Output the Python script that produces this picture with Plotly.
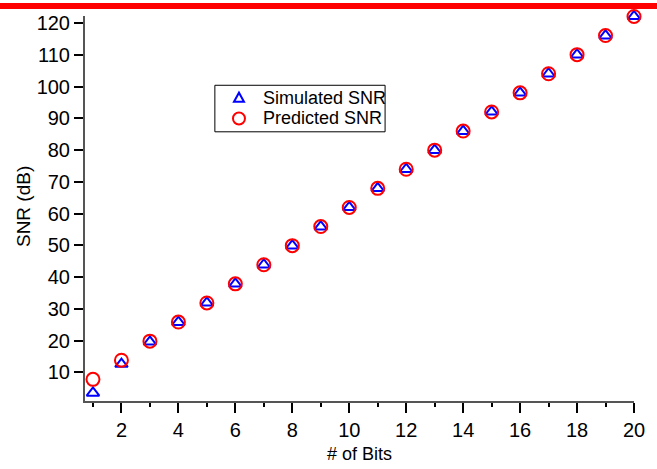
import plotly.graph_objects as go

bits = list(range(1, 21))
simulated_snr = [3.5, 12.6, 19.6, 25.8, 31.9, 37.9, 43.9, 49.9, 55.9, 62.0,
                 68.0, 74.0, 80.0, 86.0, 92.1, 98.1, 104.1, 110.1, 116.1, 122.2]
predicted_snr = [7.78, 13.80, 19.82, 25.84, 31.86, 37.88, 43.90, 49.92, 55.94, 61.96,
                 67.98, 74.00, 80.02, 86.04, 92.06, 98.08, 104.10, 110.12, 116.14, 122.16]
y_ticks = [10, 20, 30, 40, 50, 60, 70, 80, 90, 100, 110, 120]
x_ticks = [2, 4, 6, 8, 10, 12, 14, 16, 18, 20]
series_names = ["Simulated SNR", "Predicted SNR"]

FONT = "Liberation Sans, Arial, sans-serif"
BLUE = "#0000ff"
RED = "#ff0000"

# plot-area geometry (pixels) used to place the hand-drawn legend box
L, R, T, B = 85, 643, 12, 401
def px(x):
    return (x - L) / (R - L)
def py(y):
    return (B - y) / (B - T)

fig = go.Figure()
fig.add_trace(go.Scatter(
    x=bits, y=simulated_snr, mode="markers", name=series_names[0],
    marker=dict(symbol="triangle-up-open", size=11, color=BLUE,
                line=dict(width=2, color=BLUE)),
    cliponaxis=False, showlegend=False,
))
fig.add_trace(go.Scatter(
    x=bits, y=predicted_snr, mode="markers", name=series_names[1],
    marker=dict(symbol="circle-open", size=13, color=RED,
                line=dict(width=2, color=RED)),
    cliponaxis=False, showlegend=False,
))

legend_shapes = [
    # legend frame
    dict(type="rect", xref="paper", yref="paper",
         x0=px(217), x1=px(390), y0=py(129), y1=py(82),
         fillcolor="white", line=dict(color="black", width=1), layer="above"),
    # triangle symbol
    dict(type="path", xref="paper", yref="paper",
         xsizemode="pixel", ysizemode="pixel",
         xanchor=px(241.5), yanchor=py(94.5),
         path="M -5,-4 L 5,-4 L 0,5 Z",
         line=dict(color=BLUE, width=2), layer="above"),
    # circle symbol
    dict(type="circle", xref="paper", yref="paper",
         xsizemode="pixel", ysizemode="pixel",
         xanchor=px(241.5), yanchor=py(115.5),
         x0=-6, x1=6, y0=-6, y1=6,
         line=dict(color=RED, width=2), layer="above"),
]

fig.update_layout(
    width=657, height=469,
    margin=dict(l=L, r=657 - R, t=T, b=469 - B),
    paper_bgcolor="white", plot_bgcolor="white",
    font=dict(family=FONT, size=18, color="black"),
    showlegend=False,
    xaxis=dict(
        range=[0.72, 20], tickvals=x_ticks, ticks="outside", ticklen=10,
        tickwidth=1.5, tickcolor="black", showgrid=False, zeroline=False,
        showline=True, linecolor="#555555", linewidth=2,
        minor=dict(dtick=1, tick0=1, ticks="outside", ticklen=4, tickwidth=1.5,
                   tickcolor="black", showgrid=False),
        tickfont=dict(size=20),
    ),
    yaxis=dict(
        range=[0.95, 122.3], tickvals=y_ticks, ticks="outside", ticklen=9,
        tickwidth=1.5, tickcolor="black", showgrid=False, zeroline=False,
        showline=True, linecolor="#555555", linewidth=2,
        tickfont=dict(size=20),
    ),
    shapes=[dict(
        type="rect", xref="paper", yref="paper",
        xsizemode="pixel", ysizemode="pixel", xanchor=0, yanchor=1,
        x0=-90, x1=600, y0=7, y1=13,
        fillcolor=RED, line=dict(width=0), layer="above",
    )] + legend_shapes,
    annotations=[
        dict(text="SNR (dB)", textangle=-90, xref="paper", yref="paper",
             x=px(22), y=py(205), showarrow=False,
             xanchor="center", yanchor="middle", font=dict(size=19)),
        dict(text="# of Bits", xref="paper", yref="paper",
             x=0.5, y=py(455), showarrow=False,
             xanchor="center", yanchor="middle", font=dict(size=18)),
        dict(text=series_names[0], xref="paper", yref="paper",
             x=px(264), y=py(94.5), showarrow=False,
             xanchor="left", yanchor="middle", font=dict(size=18)),
        dict(text=series_names[1], xref="paper", yref="paper",
             x=px(264), y=py(115.5), showarrow=False,
             xanchor="left", yanchor="middle", font=dict(size=18)),
    ],
)

fig.write_html("out.html", config={"displayModeBar": False},
               post_script="document.body.style.margin='0';document.body.style.padding='0';")
